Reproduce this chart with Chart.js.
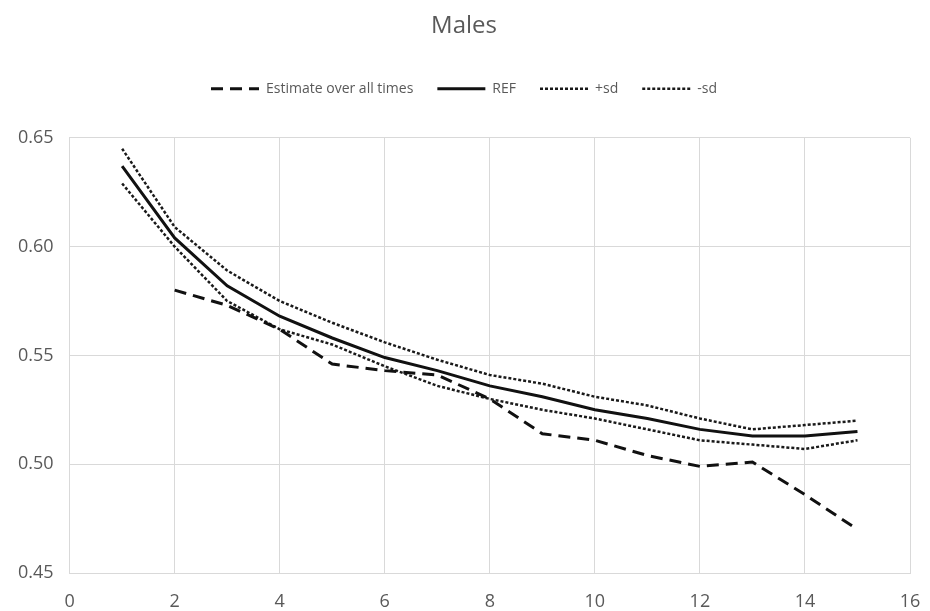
<!DOCTYPE html>
<html>
<head>
<meta charset="utf-8">
<script src="https://cdn.jsdelivr.net/npm/chart.js@4.4.1/dist/chart.umd.min.js"></script>
<style>
  html, body { margin: 0; padding: 0; background: #fff; }
  #wrap { width: 930px; height: 611px; }
</style>
</head>
<body>
<div id="wrap"><canvas id="myChart"></canvas></div>
<script>
const xValues = [1, 2, 3, 4, 5, 6, 7, 8, 9, 10, 11, 12, 13, 14, 15];
const estimate = [null, 0.580, 0.573, 0.562, 0.546, 0.543, 0.541, 0.530, 0.514, 0.511, 0.504, 0.499, 0.501, 0.486, 0.470];
const ref = [0.637, 0.604, 0.582, 0.568, 0.558, 0.549, 0.543, 0.536, 0.531, 0.525, 0.521, 0.516, 0.513, 0.513, 0.515];
const plusSd = [0.645, 0.609, 0.589, 0.575, 0.565, 0.556, 0.548, 0.541, 0.537, 0.531, 0.527, 0.521, 0.516, 0.518, 0.520];
const minusSd = [0.629, 0.600, 0.575, 0.562, 0.555, 0.545, 0.536, 0.530, 0.525, 0.521, 0.516, 0.511, 0.509, 0.507, 0.511];
const xTicks = [0, 2, 4, 6, 8, 10, 12, 14, 16];
const yTicks = [0.45, 0.50, 0.55, 0.60, 0.65];

const textColor = '#595959';
const gridColor = '#d9d9d9';

function pts(arr) {
  return xValues.map((x, i) => ({ x: x, y: arr[i] }));
}

// extra room under the legend
const legendGap = {
  id: 'legendGap',
  beforeInit(chart) {
    const fit = chart.legend.fit;
    chart.legend.fit = function () {
      fit.bind(chart.legend)();
      this.height += 32;
    };
  }
};

const ctx = document.getElementById('myChart');

new Chart(ctx, {
  type: 'line',
  data: {
    datasets: [
      {
        label: 'Estimate over all times',
        data: pts(estimate),
        borderColor: '#111',
        backgroundColor: '#111',
        borderWidth: 3,
        borderDash: [12, 7],
        pointRadius: 0,
        tension: 0
      },
      {
        label: 'REF',
        data: pts(ref),
        borderColor: '#111',
        backgroundColor: '#111',
        borderWidth: 3,
        pointRadius: 0,
        tension: 0
      },
      {
        label: '+sd',
        data: pts(plusSd),
        borderColor: '#1a1a1a',
        backgroundColor: '#1a1a1a',
        borderWidth: 2.5,
        borderDash: [3, 2],
        pointRadius: 0,
        tension: 0
      },
      {
        label: '-sd',
        data: pts(minusSd),
        borderColor: '#1a1a1a',
        backgroundColor: '#1a1a1a',
        borderWidth: 2.5,
        borderDash: [3, 2],
        pointRadius: 0,
        tension: 0
      }
    ]
  },
  options: {
    responsive: true,
    maintainAspectRatio: false,
    animation: false,
    layout: { padding: { left: 18, right: 20, top: 0, bottom: 0 } },
    plugins: {
      title: {
        display: true,
        text: 'Males',
        color: textColor,
        font: { family: 'Open Sans', size: 24, weight: 'normal' },
        padding: { top: 12, bottom: 17 }
      },
      legend: {
        position: 'top',
        labels: {
          color: textColor,
          font: { family: 'Open Sans', size: 14 },
          usePointStyle: true,
          pointStyle: 'line',
          pointStyleWidth: 48,
          padding: 24,
          generateLabels(chart) {
            const items = Chart.defaults.plugins.legend.labels.generateLabels(chart);
            items.forEach(it => {
              const ds = chart.data.datasets[it.datasetIndex];
              it.lineDash = ds.borderDash || [];
              it.lineWidth = ds.borderWidth;
              it.strokeStyle = ds.borderColor;
            });
            return items;
          }
        }
      },
      tooltip: { enabled: false }
    },
    scales: {
      x: {
        type: 'linear',
        min: 0,
        max: 16,
        afterBuildTicks: (axis) => { axis.ticks = xTicks.map(v => ({ value: v })); },
        grid: { color: gridColor, drawTicks: true, tickLength: 20, tickColor: 'rgba(0,0,0,0)' },
        border: { color: gridColor },
        ticks: {
          color: textColor,
          font: { family: 'Open Sans', size: 18, lineHeight: 1 },
          padding: 0,
          maxRotation: 0
        }
      },
      y: {
        min: 0.45,
        max: 0.65,
        afterBuildTicks: (axis) => { axis.ticks = yTicks.map(v => ({ value: v })); },
        grid: { color: gridColor, drawTicks: true, tickLength: 16, tickColor: 'rgba(0,0,0,0)' },
        border: { color: gridColor },
        ticks: {
          color: textColor,
          font: { family: 'Open Sans', size: 18 },
          padding: 0,
          callback: (v) => v.toFixed(2)
        }
      }
    }
  },
  plugins: [legendGap]
});
</script>
</body>
</html>
